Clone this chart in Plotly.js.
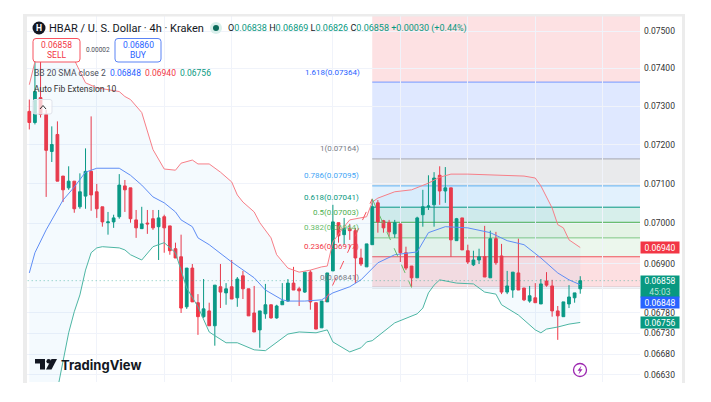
<!DOCTYPE html>
<html><head><meta charset="utf-8">
<script src="https://cdn.plot.ly/plotly-3.0.1.min.js"></script>
<style>html,body{margin:0;padding:0;background:#fff}#c{width:711px;height:402px}</style></head>
<body><div id="c"></div><script>
const opens=[.07287,.07258,.07323,.07279,.07183,.07227,.07120,.07090,.07107,.07042,.07069,.07132,.07080,.07042,.07002,.07004,.07017,.07095,.07090,.07009,.06987,.07001,.07012,.06992,.07017,.06994,.06937,.06917,.06794,.06889,.06804,.06770,.06784,.06748,.06843,.06828,.06843,.06816,.06870,.06838,.06779,.06738,.06777,.06799,.06767,.06799,.06808,.06852,.06838,.06830,.06879,.06804,.06743,.06806,.06882,.07002,.06972,.06987,.06982,.06914,.06892,.06947,.07052,.07007,.07002,.06974,.06999,.06927,.06894,.06865,.07022,.07042,.07047,.07122,.07082,.07090,.06957,.07014,.06932,.06897,.06909,.06917,.06865,.06962,.06919,.06830,.06835,.06877,.06840,.06808,.06816,.06801,.06857,.06845,.06784,.06770,.06801,.06816,.06838];
const highs=[.07318,.07418,.07418,.07292,.07248,.07261,.07120,.07145,.07107,.07127,.07191,.07274,.07100,.07042,.07029,.07022,.07125,.07110,.07090,.07034,.07042,.07034,.07034,.07034,.07022,.06994,.06952,.06972,.06889,.06899,.06825,.06862,.06804,.06847,.06899,.06852,.06909,.06867,.06882,.06838,.06845,.06784,.06850,.06799,.06799,.06852,.06862,.06892,.06843,.06879,.06884,.06804,.06808,.06877,.07047,.07002,.07014,.06999,.06989,.06937,.06949,.07062,.07059,.07009,.07009,.07009,.06999,.06942,.06894,.07017,.07085,.07122,.07130,.07145,.07143,.07090,.07014,.07014,.06947,.06932,.06937,.06994,.06982,.06979,.06949,.06882,.06879,.06962,.06840,.06845,.06852,.06862,.06879,.06860,.06796,.06806,.06847,.06828,.06869];
const lows=[.07240,.07253,.07271,.07067,.07156,.07107,.07054,.07085,.07027,.07037,.07037,.07032,.07014,.06992,.06972,.06989,.07012,.07029,.07002,.06964,.06987,.06974,.06984,.06909,.06927,.06922,.06914,.06779,.06789,.06806,.06726,.06767,.06748,.06700,.06791,.06799,.06813,.06794,.06813,.06772,.06733,.06695,.06765,.06765,.06765,.06799,.06806,.06835,.06796,.06828,.06787,.06740,.06743,.06806,.06882,.06952,.06947,.06959,.06852,.06894,.06892,.06947,.06977,.06977,.06967,.06964,.06904,.06884,.06843,.06865,.06992,.07034,.06992,.07047,.07052,.06917,.06957,.06934,.06899,.06894,.06899,.06867,.06865,.06897,.06825,.06825,.06816,.06835,.06808,.06804,.06804,.06801,.06843,.06770,.06714,.06770,.06791,.06804,.06826];
const closes=[.07258,.07339,.07279,.07186,.07201,.07107,.07085,.07107,.07037,.07080,.07132,.07072,.07037,.07004,.07004,.07014,.07097,.07085,.07012,.06989,.06999,.06999,.06989,.07014,.06989,.06932,.06914,.06791,.06889,.06806,.06770,.06789,.06748,.06847,.06830,.06838,.06813,.06862,.06838,.06772,.06733,.06784,.06799,.06767,.06796,.06808,.06852,.06835,.06833,.06879,.06806,.06740,.06808,.06877,.07004,.06969,.06987,.06982,.06914,.06899,.06949,.07042,.07004,.06989,.06979,.07002,.06927,.06889,.06865,.07014,.07042,.07044,.07115,.07082,.07090,.06959,.07012,.06934,.06904,.06909,.06917,.06867,.06962,.06902,.06830,.06845,.06879,.06835,.06811,.06821,.06804,.06850,.06847,.06784,.06772,.06806,.06818,.06828,.06858];
const upperIdx=[0,1,3,6,8,10,12,14,16,17,18,20,22,24,26,27,29,30,32,34,36,37,38,40,41,43,44,46,47,48,50,52,53,54,56,57,60,61,62,65,68,71,73,75,78,84,88,90,91,93,94,95,96,98];
const upperVal=[.07357,.07418,.07465,.07465,.07423,.07362,.07349,.07344,.07339,.07326,.07318,.07284,.07188,.07138,.07135,.07153,.07161,.07151,.07151,.07130,.07105,.07072,.07054,.07029,.07002,.06964,.06922,.06889,.06884,.06879,.06884,.06892,.06894,.06954,.06992,.07009,.07017,.07054,.07064,.07080,.07085,.07102,.07117,.07125,.07125,.07122,.07120,.07115,.07095,.07039,.06997,.06989,.06959,.06940];
const midIdx=[0,1,3,5,6,8,10,12,16,18,20,22,24,26,27,29,30,32,36,40,42,45,46,49,52,54,57,59,62,65,69,71,74,78,82,85,88,91,94,96,98];
const midVal=[.06877,.06927,.06984,.07034,.07059,.07092,.07130,.07140,.07140,.07122,.07097,.07067,.07052,.07029,.07009,.06992,.06964,.06947,.06904,.06865,.06835,.06811,.06808,.06808,.06811,.06828,.06843,.06860,.06902,.06922,.06929,.06977,.06992,.06989,.06977,.06957,.06947,.06914,.06877,.06860,.06848];
const lowerIdx=[0,4,5,6,7,8,9,10,11,12,13,16,17,18,20,22,24,26,27,28,30,32,33,35,37,40,42,44,46,48,51,53,54,57,59,60,61,65,69,70,71,72,73,76,79,81,83,84,87,90,91,92,94,96,98];
const lowerVal=[.0640,.0652,.06595,.06661,.06731,.06782,.06823,.06884,.06927,.06939,.06942,.06939,.06934,.06922,.06909,.06942,.06952,.06927,.06884,.06840,.06794,.06733,.06724,.06707,.06707,.06690,.06688,.06707,.06728,.06733,.06731,.06738,.06709,.06685,.06695,.06709,.06712,.06755,.06777,.06791,.06828,.06847,.06860,.06852,.06850,.06830,.06825,.06799,.06774,.06738,.06731,.06740,.06745,.06752,.06756];
const fibRatios=["1.618","1","0.786","0.618","0.5","0.382","0.236","0"];
const fibPrices=[.07364,.07164,.07095,.07041,.07003,.06964,.06917,.06841];
const fibLine=["#7f9dff","#a8aab2","#64b5f6","#089981","#4caf50","#81c784","#f0565f","#a8aab2"];
const fibText=["#2962ff","#787b86","#42a5f5","#089981","#4caf50","#66bb6a","#f23645","#787b86"];
const fibZone=["rgba(242,54,69,.15)","rgba(41,98,255,.15)","rgba(120,123,134,.16)","rgba(33,150,243,.13)","rgba(8,153,129,.16)","rgba(76,175,80,.15)","rgba(129,199,132,.15)","rgba(242,54,69,.16)"];
const tickVals=[.075,.074,.073,.072,.071,.07,.069,.0684,.0678,.0673,.0668,.0663];
const tickText=["0.07500","0.07400","0.07300","0.07200","0.07100","0.07000","0.06900","","0.06780","0.06730","0.06680","0.06630"];
const gridX=[12,24,36,54,66,78,90,102];
const legX=[52.6,61,68]; const legY=[.06806,.07062,.06841];

const L=27,R=640,T=16,B=382;
const X=p=>(p-L)/(R-L), Y=p=>(B-p)/(B-T);
const idx=opens.map((_,i)=>i);
const RED="#f23645",GRN="#089981",BLU="#2962ff";
const yTop=-1.1226,yBot=-1.17958,xEnd=108.63;
const F="Roboto, sans-serif";

const traces=[
 {type:"scatter",mode:"lines",x:lowerIdx,y:lowerVal,line:{color:"#4db6a4",width:1},hoverinfo:"skip"},
 {type:"scatter",mode:"lines",x:upperIdx,y:upperVal,line:{color:"#f77f88",width:1},fill:"tonexty",fillcolor:"rgba(33,150,243,.05)",hoverinfo:"skip"},
 {type:"scatter",mode:"lines",x:midIdx,y:midVal,line:{color:"#5f8df5",width:1},hoverinfo:"skip"},
 {type:"scatter",mode:"lines",x:[-1,xEnd],y:[closes[98],closes[98]],line:{color:GRN,width:1,dash:"1px,3px"},opacity:.55,hoverinfo:"skip"},
 {type:"scatter",mode:"lines",x:legX.slice(0,2),y:legY.slice(0,2),line:{color:"#f7525f",width:1,dash:"dash"},hoverinfo:"skip"},
 {type:"scatter",mode:"lines",x:legX.slice(1),y:legY.slice(1),line:{color:"#66bb6a",width:1,dash:"dash"},hoverinfo:"skip"},
 {type:"candlestick",x:idx,open:opens,high:highs,low:lows,close:closes,whiskerwidth:0,hoverinfo:"skip",
  increasing:{line:{color:GRN,width:1},fillcolor:GRN},decreasing:{line:{color:RED,width:1},fillcolor:RED}}
];

const shapes=[];
fibPrices.forEach((p,i)=>{
 const top=i?fibPrices[i-1]:Math.pow(10,yTop);
 shapes.push({type:"rect",layer:"below",xref:"x",yref:"y",x0:61,x1:xEnd,y0:p,y1:top,fillcolor:fibZone[i],line:{width:0}});
 shapes.push({type:"line",layer:"below",xref:"x",yref:"y",x0:61,x1:xEnd,y0:p,y1:p,line:{color:fibLine[i],width:i==7?1.5:1}});
});
const pathPx=(pts,close)=>pts.map((q,i)=>(i?"L":"M")+X(q[0])+","+Y(q[1])).join(" ")+(close?" Z":"");
const rrect=(x0,y0,x1,y1,r)=>`M${X(x0+r)},${Y(y0)} L${X(x1-r)},${Y(y0)} Q${X(x1)},${Y(y0)} ${X(x1)},${Y(y0+r)} L${X(x1)},${Y(y1-r)} Q${X(x1)},${Y(y1)} ${X(x1-r)},${Y(y1)} L${X(x0+r)},${Y(y1)} Q${X(x0)},${Y(y1)} ${X(x0)},${Y(y1-r)} L${X(x0)},${Y(y0+r)} Q${X(x0)},${Y(y0)} ${X(x0+r)},${Y(y0)} Z`;
const P=(o)=>Object.assign({xref:"paper",yref:"paper",layer:"above"},o);
const rect=(x0,y0,x1,y1,c)=>P({type:"rect",x0:X(x0),x1:X(x1),y0:Y(y0),y1:Y(y1),fillcolor:c,line:{width:0}});
const circ=(x,y,r,fill,line,w)=>P({type:"circle",x0:X(x-r),x1:X(x+r),y0:Y(y+r),y1:Y(y-r),fillcolor:fill,line:{color:line||fill,width:w||0}});
shapes.push(rect(23,14,685,16.5,"#ececec"),rect(23,14,27,383,"#ececec"),rect(682,14,685,383,"#ececec"));
shapes.push(circ(39,28,6.5,"#131722"),circ(216,28,6,"#d9efeb"),circ(216,28,3,"#0b6b5b"));
shapes.push(P({type:"path",path:rrect(33,38.5,80,62,3),fillcolor:"#fff",line:{color:"#f7525f",width:1}}));
shapes.push(P({type:"path",path:rrect(115,38.5,161,62,3),fillcolor:"#fff",line:{color:"#5b83f5",width:1}}));
shapes.push(P({type:"path",path:rrect(33,99.5,52,114,2),fillcolor:"rgba(255,255,255,.72)",line:{color:"#e0e3eb",width:1}}));
shapes.push(P({type:"path",path:pathPx([[40,109],[43,105.5],[46,109]]),line:{color:"#333",width:1}}));
shapes.push(P({type:"path",path:pathPx([[35,359],[45,359],[45,369.5],[40,369.5],[40,363.5],[35,363.5]],1),fillcolor:"#131722",line:{width:0}}));
shapes.push(circ(48.7,361.3,2.3,"#131722"));
shapes.push(P({type:"path",path:pathPx([[51.5,359],[57,359],[51.5,369.5],[46,369.5]],1),fillcolor:"#131722",line:{width:0}}));
shapes.push(circ(580,370,6.5,"#fff","#9c27b0",1.3));
shapes.push(P({type:"path",path:pathPx([[581.5,365.5],[577.5,370.8],[579.8,370.8],[578.5,374.5],[582.5,369.2],[580.2,369.2]],1),fillcolor:"#9c27b0",line:{width:0}}));

const txt=(x,y,text,size,color,anchor,extra)=>Object.assign({xref:"paper",yref:"paper",x:X(x),y:Y(y),text:text,showarrow:false,xanchor:anchor||"left",yanchor:"middle",font:{family:F,size:size,color:color},borderpad:0},extra||{});
const s=(c,t)=>`<span style="color:${c}">${t}</span>`;
const ann=[
 txt(39,28,"<b>H</b>",8.5,"#fff","center"),
 txt(48,28,"HBAR / U. S. Dollar · 4h · Kraken",11,"#131722"),
 txt(227,28,"O"+s(GRN,"0.06838")+" H"+s(GRN,"0.06869")+" L"+s(GRN,"0.06826")+" C"+s(GRN,"0.06858 +0.00030 (+0.44%)"),9,"#131722"),
 txt(56.5,45,"0.06858",8.5,RED,"center"),txt(56.5,55,"SELL",8.5,RED,"center"),
 txt(97.5,49.5,"0.00002",6.5,"#4a4e59","center"),
 txt(138,45,"0.06860",8.5,BLU,"center"),txt(138,55,"BUY",8.5,BLU,"center"),
 txt(33,73,"BB 20 SMA close 2",8.5,"#4a4e59"),
 txt(109,73,"0.06848",8.5,BLU),txt(144,73,"0.06940",8.5,RED),txt(179,73,"0.06756",8.5,GRN),
 txt(33,89,"Auto Fib Extension 10",8.5,"#333"),
 txt(60,364.5,"<b>TradingView</b>",13,"#131722","left",{font:{family:"Inter, sans-serif",size:13,color:"#131722"}})
];
fibPrices.forEach((p,i)=>{
 const lab=fibRatios[i]+"("+p.toFixed(5)+")";
 if(i==0) ann.push(txt(360.5,73,lab,8,fibText[i],"right"));
 else ann.push({xref:"paper",yref:"y",x:X(360.5),y:Math.log10(p),yshift:10,text:lab,showarrow:false,xanchor:"right",yanchor:"middle",font:{family:F,size:8,color:fibText[i]}});
});
const tag=(price,text,bg,h,shift)=>({xref:"paper",yref:"y",x:1,y:Math.log10(price),yshift:shift,xanchor:"left",yanchor:"middle",text:text,showarrow:false,bgcolor:bg,width:38,height:h,align:"center",borderpad:0,font:{family:F,size:8.5,color:"#fff"}});
ann.push(tag(.0694,"0.06940",RED,11,0));
ann.push(tag(closes[98],"0.06858<br><span style='color:#b9e3da'>45:03</span>",GRN,21,-5.5));
ann.push(tag(.06848,"0.06848",BLU,11,-17.5));
ann.push(tag(.06756,"0.06756",GRN,11,0));

const layout={width:711,height:402,margin:{l:L,r:711-R,t:T,b:402-B,pad:0},paper_bgcolor:"#fff",plot_bgcolor:"#fff",showlegend:false,boxgap:.3,
 xaxis:{type:"linear",range:[-0.41,xEnd],rangeslider:{visible:false},showticklabels:false,ticks:"",tickmode:"array",tickvals:gridX,showgrid:true,gridcolor:"#f0f3fa",gridwidth:1,zeroline:false,showline:false},
 yaxis:{type:"log",side:"right",range:[yBot,yTop],tickmode:"array",tickvals:tickVals,ticktext:tickText,ticks:"",ticklabelstandoff:3,showgrid:true,gridcolor:"#f0f3fa",gridwidth:1,zeroline:false,showline:false,tickfont:{family:F,size:8.5,color:"#333"}},
 shapes:shapes,annotations:ann};
Plotly.newPlot("c",traces,layout,{displayModeBar:false,staticPlot:true});
</script></body></html>
